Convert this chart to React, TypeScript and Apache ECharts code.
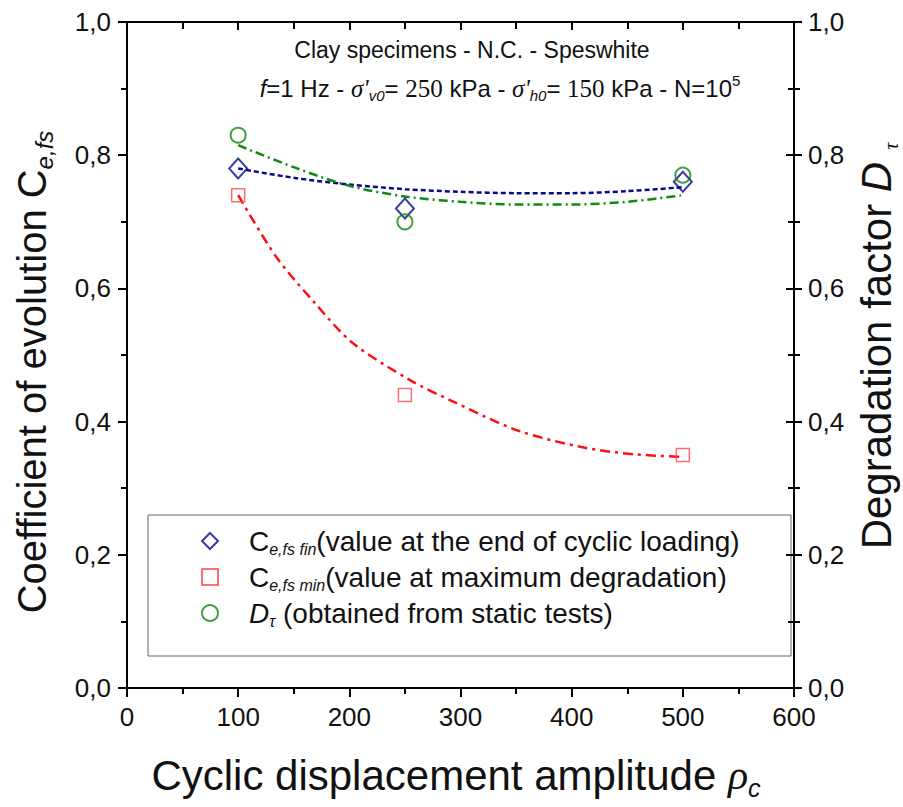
import React, { useEffect, useRef } from "react";
import * as echarts from "echarts";

// ---------- data ----------
const X_TICKS = [0, 100, 200, 300, 400, 500, 600];
const Y_TICKS = [0, 0.2, 0.4, 0.6, 0.8, 1.0];

const X_VALUES = [100, 250, 500];
const CE_FIN = [0.78, 0.72, 0.76];
const CE_MIN = [0.74, 0.44, 0.35];
const D_TAU = [0.83, 0.7, 0.77];

const FIT_X = [100, 150, 200, 250, 300, 350, 400, 450, 500];
const FIT_FIN = [0.78, 0.766, 0.756, 0.749, 0.745, 0.743, 0.743, 0.746, 0.752];
const FIT_DTAU = [0.815, 0.782, 0.754, 0.738, 0.73, 0.726, 0.726, 0.73, 0.74];
const FIT_MIN_X = [100, 134, 169, 203, 255, 291, 351, 411, 456, 500];
const FIT_MIN = [0.74, 0.648, 0.578, 0.518, 0.462, 0.432, 0.387, 0.361, 0.351, 0.347];

const NAME_FIN = "Ce,fs fin";
const NAME_MIN = "Ce,fs min";
const NAME_DT = "Dtau";

const FONT = "'Liberation Sans', Arial, sans-serif";
const SERIF = "'Liberation Serif', 'Times New Roman', serif";
const BLUE = "#0a0a8c";
const RED = "#ff1010";
const GREEN = "#108a10";
const TXT = "#111";

const pairs = (xs: number[], ys: number[]) => xs.map((x, i) => [x, ys[i]]);
const fmt = (v: number) => v.toFixed(1).replace(".", ",");

export default function App() {
  const ref = useRef<HTMLDivElement>(null);
  useEffect(() => {
    if (!ref.current) return;
    const chart = echarts.init(ref.current, null, { renderer: "svg" });
    const axisLine = { show: true, onZero: false, lineStyle: { color: "#000", width: 2 } };
    const baseX = {
      type: "value" as const,
      min: X_TICKS[0],
      max: X_TICKS[X_TICKS.length - 1],
      interval: 100,
      splitLine: { show: false },
      axisLine,
    };
    const baseY = {
      type: "value" as const,
      min: Y_TICKS[0],
      max: Y_TICKS[Y_TICKS.length - 1],
      interval: 0.2,
      splitLine: { show: false },
      axisLine,
    };
    const legendRich = {
      g: { width: 26 },
      m: { fontSize: 28, fontFamily: FONT, color: TXT, verticalAlign: "middle" },
      s: { fontSize: 16, fontFamily: FONT, fontStyle: "italic", color: TXT, verticalAlign: "bottom", padding: [16, 0, 0, 0] },
      i: { fontSize: 28, fontFamily: FONT, fontStyle: "italic", color: TXT, verticalAlign: "middle" },
    };
    const legendText: Record<string, string> = {
      [NAME_FIN]: "{g|}{m|C}{s|e,fs fin}{m|(value at the end of cyclic loading)}",
      [NAME_MIN]: "{g|}{m|C}{s|e,fs min}{m|(value at maximum degradation)}",
      [NAME_DT]: "{g|}{i|D}{s|τ}{m| (obtained from static tests)}",
    };
    const tickLabel = { fontSize: 26, fontFamily: FONT, color: TXT };
    chart.setOption({
      animation: false,
      grid: { left: 127, right: 109, top: 22, bottom: 119, containLabel: false },
      xAxis: [
        {
          ...baseX,
          position: "bottom",
          axisTick: { show: true, inside: false, length: 9, lineStyle: { color: "#000", width: 2 } },
          minorTick: { show: true, splitNumber: 2, length: 6, lineStyle: { color: "#000", width: 2 } },
          axisLabel: { ...tickLabel, margin: 16 },
        },
        {
          ...baseX,
          position: "top",
          axisTick: { show: true, inside: true, length: 8, lineStyle: { color: "#000", width: 2 } },
          minorTick: { show: true, splitNumber: 2, length: 7, lineStyle: { color: "#000", width: 2 } },
          axisLabel: { show: false },
        },
      ],
      yAxis: [
        {
          ...baseY,
          position: "left",
          axisTick: { show: true, inside: false, length: 9, lineStyle: { color: "#000", width: 2 } },
          minorTick: { show: true, splitNumber: 2, length: 6, lineStyle: { color: "#000", width: 2 } },
          axisLabel: { ...tickLabel, margin: 16, formatter: fmt },
        },
        {
          ...baseY,
          position: "right",
          axisTick: { show: true, inside: false, length: 8, lineStyle: { color: "#000", width: 2 } },
          minorTick: { show: true, splitNumber: 2, length: 6, lineStyle: { color: "#000", width: 2 } },
          axisLabel: { ...tickLabel, margin: 14, formatter: fmt },
        },
        {
          ...baseY,
          position: "right",
          axisTick: { show: true, inside: true, length: 8, lineStyle: { color: "#000", width: 2 } },
          minorTick: { show: true, splitNumber: 2, length: 6, lineStyle: { color: "#000", width: 2 } },
          axisLabel: { show: false },
        },
      ],
      legend: {
        orient: "vertical",
        left: 201,
        top: 527,
        itemGap: 6,
        itemWidth: 16,
        itemHeight: 16,
        padding: 0,
        data: [
          { name: NAME_FIN, icon: "diamond", itemStyle: { color: "#fff", borderColor: BLUE, borderWidth: 2 } },
          { name: NAME_MIN, icon: "rect", itemStyle: { color: "#fff", borderColor: RED, borderWidth: 1.5 } },
          { name: NAME_DT, icon: "circle", itemStyle: { color: "#fff", borderColor: GREEN, borderWidth: 2 } },
        ],
        formatter: (n: string) => legendText[n] || n,
        textStyle: { rich: legendRich },
      },
      series: [
        {
          type: "line",
          name: "fit fin",
          data: pairs(FIT_X, FIT_FIN),
          smooth: 0.3,
          showSymbol: false,
          lineStyle: { color: BLUE, width: 2.5, type: [5, 3] },
          z: 2,
        },
        {
          type: "line",
          name: "fit dtau",
          data: pairs(FIT_X, FIT_DTAU),
          smooth: 0.3,
          showSymbol: false,
          lineStyle: { color: GREEN, width: 2.5, type: [9, 4, 2, 4] },
          z: 2,
        },
        {
          type: "line",
          name: "fit min",
          data: pairs(FIT_MIN_X, FIT_MIN),
          smooth: 0.3,
          showSymbol: false,
          lineStyle: { color: RED, width: 2.5, type: [10, 5, 3, 5] },
          z: 2,
        },
        {
          type: "scatter",
          name: NAME_FIN,
          data: pairs(X_VALUES, CE_FIN),
          symbol: "diamond",
          symbolSize: [18, 20],
          itemStyle: { color: "rgba(255,255,255,0)", borderColor: BLUE, borderWidth: 2 },
          z: 3,
        },
        {
          type: "scatter",
          name: NAME_MIN,
          data: pairs(X_VALUES, CE_MIN),
          symbol: "rect",
          symbolSize: 13,
          itemStyle: { color: "rgba(255,255,255,0)", borderColor: "#ff4a4a", borderWidth: 1.5 },
          z: 3,
        },
        {
          type: "scatter",
          name: NAME_DT,
          data: pairs(X_VALUES, D_TAU),
          symbol: "circle",
          symbolSize: 15,
          itemStyle: { color: "rgba(255,255,255,0)", borderColor: GREEN, borderWidth: 2 },
          z: 3,
        },
      ],
      graphic: [
        {
          type: "rect",
          shape: { x: 148, y: 515, width: 643, height: 141 },
          style: { fill: "none", stroke: "#666", lineWidth: 1 },
          z: 0,
        },
        {
          type: "text",
          x: 472,
          y: 50,
          style: {
            text: "Clay specimens - N.C. - Speswhite",
            font: `23px ${FONT}`,
            fill: TXT,
            align: "center",
            verticalAlign: "middle",
          },
        },
        {
          type: "text",
          x: 500,
          y: 88,
          style: {
            text: "{it|f}{m|=1 Hz - }{sg|σ'}{s|v0}{m|= }{se|250}{m| kPa - }{sg|σ'}{s|h0}{m|= }{se|150}{m| kPa - N=10}{sp|5}",
            align: "center",
            verticalAlign: "middle",
            rich: {
              m: { fontSize: 24, fontFamily: FONT, fill: TXT, lineHeight: 30, verticalAlign: "middle" },
              it: { fontSize: 24, fontFamily: FONT, fontStyle: "italic", fill: TXT, lineHeight: 30, verticalAlign: "middle" },
              sg: { fontSize: 25, fontFamily: SERIF, fontStyle: "italic", fill: TXT, lineHeight: 30, verticalAlign: "middle" },
              se: { fontSize: 25, fontFamily: SERIF, fill: TXT, lineHeight: 30, verticalAlign: "middle" },
              s: { fontSize: 15, fontFamily: FONT, fontStyle: "italic", fill: TXT, lineHeight: 15, verticalAlign: "bottom" },
              sp: { fontSize: 15, fontFamily: FONT, fill: TXT, lineHeight: 15, verticalAlign: "top" },
            },
          },
        },
        {
          type: "text",
          x: 456,
          y: 775,
          style: {
            text: "{m|Cyclic displacement amplitude }{r|ρ}{s|c}",
            align: "center",
            verticalAlign: "middle",
            rich: {
              m: { fontSize: 42, fontFamily: FONT, fill: TXT, lineHeight: 50, verticalAlign: "middle" },
              r: { fontSize: 42, fontFamily: SERIF, fontStyle: "italic", fill: TXT, lineHeight: 50, verticalAlign: "middle" },
              s: { fontSize: 25, fontFamily: FONT, fontStyle: "italic", fill: TXT, lineHeight: 25, verticalAlign: "bottom" },
            },
          },
        },
        {
          type: "text",
          x: 32,
          y: 372,
          rotation: Math.PI / 2,
          style: {
            text: "{m|Coefficient of evolution C}{s|e,fs}",
            align: "center",
            verticalAlign: "middle",
            rich: {
              m: { fontSize: 40, fontFamily: FONT, fill: TXT, lineHeight: 48, verticalAlign: "middle" },
              s: { fontSize: 24, fontFamily: FONT, fontStyle: "italic", fill: TXT, lineHeight: 24, verticalAlign: "bottom" },
            },
          },
        },
        {
          type: "text",
          x: 876,
          y: 346,
          rotation: Math.PI / 2,
          style: {
            text: "{m|Degradation factor }{i|D}{s|τ}",
            align: "center",
            verticalAlign: "middle",
            rich: {
              m: { fontSize: 42, fontFamily: FONT, fill: TXT, lineHeight: 50, verticalAlign: "middle" },
              i: { fontSize: 42, fontFamily: FONT, fontStyle: "italic", fill: TXT, lineHeight: 50, verticalAlign: "middle" },
              s: { fontSize: 20, fontFamily: SERIF, fontStyle: "italic", fill: TXT, lineHeight: 20, verticalAlign: "bottom", padding: [0, 0, 0, 12] },
            },
          },
        },
      ],
    });
    return () => chart.dispose();
  }, []);
  return (
    <div
      ref={ref}
      style={{ position: "fixed", left: 0, top: 0, width: 903, height: 807, background: "#fff" }}
    />
  );
}
